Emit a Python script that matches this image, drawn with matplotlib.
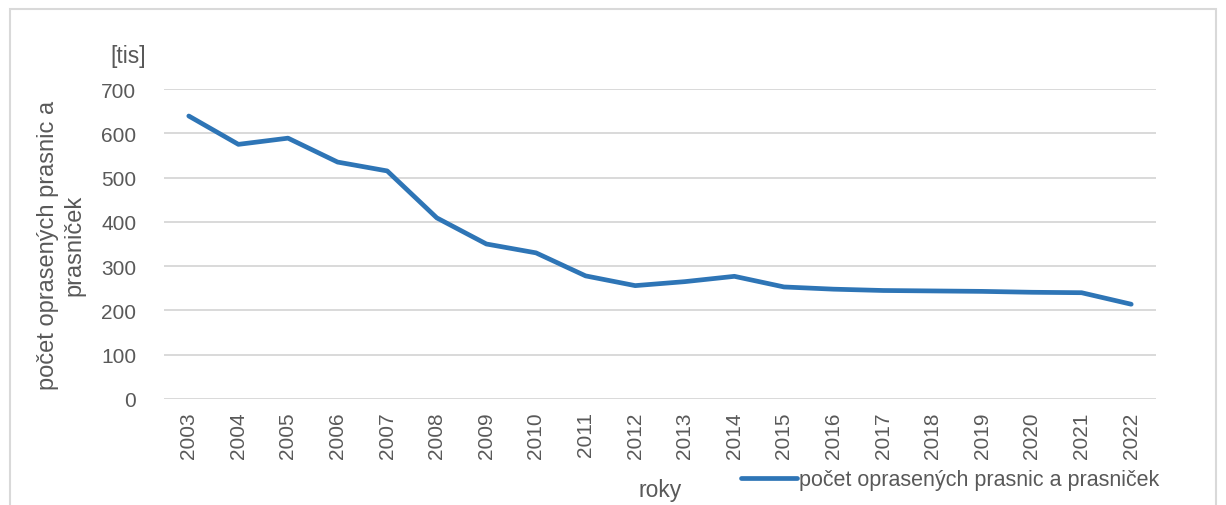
import matplotlib
matplotlib.use("Agg")
import matplotlib.pyplot as plt
from matplotlib.patches import Rectangle

# values (thousands)
years = ["2003", "2004", "2005", "2006", "2007", "2008", "2009", "2010", "2011", "2012",
         "2013", "2014", "2015", "2016", "2017", "2018", "2019", "2020", "2021", "2022"]
sows = [639, 575, 589, 535, 515, 409, 350, 330, 278, 256,
        265, 277, 253, 248, 245, 244, 243, 241, 240, 214]

grey = "#595959"
plt.rcParams["font.family"] = ["Liberation Sans", "DejaVu Sans"]

fig = plt.figure(figsize=(12.26, 5.06), dpi=100)
ax = fig.add_axes([164 / 1226, 1 - 400 / 506, (1156 - 164) / 1226, 310 / 506])

x = range(len(years))
ax.plot(x, sows, color="#2E75B6", lw=3.4, solid_capstyle="round", solid_joinstyle="round",
        label="počet oprasených prasnic a prasniček")

ax.set_xlim(-0.5, len(years) - 0.5)
ax.set_ylim(0, 700)
ax.set_yticks(range(0, 701, 100))
ax.set_xticks(list(x))
ax.set_xticklabels(years, rotation=90)
ax.tick_params(length=0, colors=grey, labelsize=15)
ax.tick_params(axis="x", pad=9)
ax.tick_params(axis="y", pad=20)
ax.grid(axis="y", color="#D9D9D9", lw=1.4)
ax.set_axisbelow(True)
for s in ax.spines.values():
    s.set_visible(False)

fig.text(61 / 1226, 1 - 245 / 506, "počet oprasených prasnic a\nprasniček", rotation=90,
         ha="center", va="center", color=grey, fontsize=17, linespacing=1.25)
fig.text(128 / 1226, 1 - 57 / 506, "[tis]", ha="center", va="center", color=grey, fontsize=16.5)
fig.text(660 / 1226, 1 - 491 / 506, "roky", ha="center", va="center", color=grey, fontsize=16.5)

leg = fig.legend(loc="center", bbox_to_anchor=(950 / 1226, 1 - 481 / 506), frameon=False,
                 fontsize=15.5, handlelength=2.6, handletextpad=0.1, borderpad=0)
for t in leg.get_texts():
    t.set_color(grey)

fig.patches.append(Rectangle((10 / 1226, -0.05), 1206 / 1226, 1.05 - 10 / 506,
                             transform=fig.transFigure, fill=False, ec="#D9D9D9", lw=1.5))

fig.savefig("out.png", dpi=100)
